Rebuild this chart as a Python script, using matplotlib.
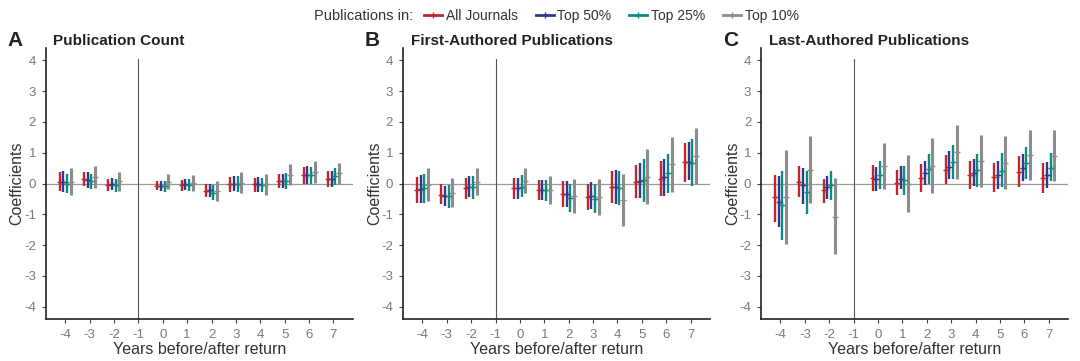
import numpy as np
import matplotlib
matplotlib.use("Agg")
import matplotlib.pyplot as plt
from matplotlib.lines import Line2D

plt.rcParams['font.family'] = ['Liberation Sans', 'DejaVu Sans']
plt.rcParams['axes.unicode_minus'] = False

years = [-4, -3, -2, 0, 1, 2, 3, 4, 5, 6, 7]
series = ["All Journals", "Top 50%", "Top 25%", "Top 10%"]
colors = ["#c0272d", "#2f3a8f", "#0e8a7e", "#8c8c8c"]
titles = ["Publication Count", "First-Authored Publications", "Last-Authored Publications"]
letters = ["A", "B", "C"]

# panel A: point estimate, lower, upper  (one list per series)
a_est = [[0.05, 0.15, -0.04, -0.07, -0.05, -0.25, 0.0, -0.03, 0.07, 0.27, 0.15],
         [0.05, 0.12, -0.02, -0.08, -0.03, -0.22, 0.0, -0.02, 0.08, 0.28, 0.14],
         [0.0, 0.07, -0.06, -0.09, -0.04, -0.30, 0.0, -0.05, 0.08, 0.28, 0.23],
         [0.05, 0.20, 0.07, 0.05, 0.02, -0.25, 0.03, -0.02, 0.28, 0.38, 0.33]]
a_lo = [[-0.24, -0.09, -0.24, -0.22, -0.24, -0.43, -0.27, -0.27, -0.16, 0.0, -0.10],
        [-0.27, -0.13, -0.22, -0.24, -0.22, -0.43, -0.25, -0.27, -0.16, 0.0, -0.11],
        [-0.32, -0.19, -0.29, -0.27, -0.25, -0.54, -0.28, -0.29, -0.18, 0.0, -0.05],
        [-0.38, -0.16, -0.24, -0.19, -0.25, -0.56, -0.32, -0.36, -0.05, 0.02, -0.03]]
a_hi = [[0.36, 0.38, 0.14, 0.09, 0.13, -0.03, 0.22, 0.19, 0.30, 0.54, 0.40],
        [0.41, 0.36, 0.18, 0.08, 0.15, 0.0, 0.24, 0.22, 0.32, 0.57, 0.40],
        [0.32, 0.32, 0.16, 0.09, 0.16, -0.05, 0.25, 0.19, 0.35, 0.55, 0.51],
        [0.49, 0.56, 0.38, 0.30, 0.29, 0.08, 0.36, 0.30, 0.63, 0.74, 0.68]]

# panel B
b_est = [[-0.20, -0.37, -0.14, -0.14, -0.20, -0.33, -0.43, -0.12, 0.06, 0.15, 0.70],
         [-0.18, -0.40, -0.10, -0.15, -0.20, -0.33, -0.42, -0.12, 0.08, 0.20, 0.70],
         [-0.15, -0.42, -0.12, -0.10, -0.22, -0.47, -0.50, -0.15, 0.10, 0.33, 0.68],
         [-0.05, -0.30, 0.05, 0.08, -0.20, -0.40, -0.45, -0.55, 0.22, 0.62, 0.88]]
b_lo = [[-0.62, -0.68, -0.49, -0.49, -0.52, -0.76, -0.86, -0.63, -0.46, -0.41, 0.05],
        [-0.62, -0.74, -0.43, -0.49, -0.52, -0.76, -0.84, -0.68, -0.46, -0.41, 0.10],
        [-0.62, -0.78, -0.49, -0.45, -0.56, -0.92, -0.97, -0.70, -0.60, -0.32, -0.09],
        [-0.57, -0.76, -0.36, -0.32, -0.65, -0.95, -1.03, -1.38, -0.68, -0.27, -0.03]]
b_hi = [[0.22, -0.02, 0.19, 0.19, 0.11, 0.08, -0.02, 0.40, 0.59, 0.73, 1.30],
        [0.27, -0.09, 0.26, 0.19, 0.11, 0.08, 0.05, 0.45, 0.68, 0.81, 1.35],
        [0.30, -0.05, 0.24, 0.27, 0.13, 0.0, -0.02, 0.41, 0.78, 0.97, 1.43],
        [0.49, 0.18, 0.51, 0.52, 0.24, 0.16, 0.14, 0.30, 1.13, 1.51, 1.81]]

# panel C
c_est = [[-0.45, 0.05, -0.22, 0.18, 0.03, 0.17, 0.45, 0.27, 0.20, 0.38, 0.18],
         [-0.60, -0.05, -0.10, 0.15, 0.15, 0.33, 0.55, 0.35, 0.27, 0.50, 0.27],
         [-0.70, -0.28, -0.05, 0.28, 0.10, 0.48, 0.70, 0.43, 0.42, 0.65, 0.50],
         [-0.45, 0.45, -1.08, 0.57, 0.0, 0.58, 1.03, 0.73, 0.68, 0.92, 0.90]]
c_lo = [[-1.24, -0.43, -0.62, -0.24, -0.36, -0.29, 0.0, -0.19, -0.29, -0.11, -0.32],
        [-1.40, -0.65, -0.49, -0.24, -0.19, -0.05, 0.14, -0.09, -0.19, 0.09, -0.16],
        [-1.82, -1.00, -0.52, -0.19, -0.36, -0.02, 0.16, -0.11, -0.11, 0.15, 0.09],
        [-1.98, -0.63, -2.29, -0.19, -0.93, -0.30, 0.16, -0.11, -0.19, 0.11, 0.09]]
c_hi = [[0.29, 0.56, 0.16, 0.60, 0.43, 0.62, 0.92, 0.74, 0.67, 0.90, 0.67],
        [0.25, 0.52, 0.26, 0.54, 0.57, 0.74, 1.06, 0.81, 0.74, 0.97, 0.70],
        [0.41, 0.41, 0.40, 0.74, 0.57, 0.97, 1.25, 0.97, 1.00, 1.17, 1.00],
        [1.10, 1.54, 0.17, 1.33, 0.92, 1.48, 1.91, 1.59, 1.54, 1.75, 1.73]]

panels = [(a_est, a_lo, a_hi), (b_est, b_lo, b_hi), (c_est, c_lo, c_hi)]
offsets = [-0.225, -0.075, 0.075, 0.225]
widths = [1.7, 1.7, 1.7, 2.2]

fig = plt.figure(figsize=(10.8, 3.61), dpi=100)
lefts = [0.0423, 0.373, 0.7046]

for k, (est, lo, hi) in enumerate(panels):
    ax = fig.add_axes([lefts[k], 0.1163, 0.2845, 0.7507])
    ax.axhline(0, color="#999999", lw=0.9, zorder=1)
    ax.axvline(-1, ymax=0.96, color="#555555", lw=0.8, zorder=1)
    for s in range(4):
        xs = np.array(years) + offsets[s]
        ax.vlines(xs, lo[s], hi[s], color=colors[s], lw=widths[s], zorder=2)
        ax.plot(xs, est[s], ls="none", marker="+", ms=4.5, mew=1.0,
                color=colors[s], zorder=3)
    ax.set_xlim(-4.8, 7.8)
    ax.set_ylim(-4.4, 4.4)
    ax.set_xticks(range(-4, 8))
    ax.set_yticks(range(-4, 5))
    for sp in ["top", "right"]:
        ax.spines[sp].set_visible(False)
    for sp in ["left", "bottom"]:
        ax.spines[sp].set_linewidth(1.2)
        ax.spines[sp].set_color("#222222")
    ax.tick_params(colors="#444444", labelcolor="#7a7a7a", labelsize=9.5,
                   length=3, width=0.8, pad=4)
    ax.set_xlabel("Years before/after return", fontsize=11.5, color="#333333", labelpad=1)
    ax.set_ylabel("Coefficients", fontsize=11.5, color="#333333", labelpad=-0.5)
    ax.text(0.025, 1.0, titles[k], transform=ax.transAxes, fontsize=11,
            fontweight="bold", color="#222222", va="bottom", ha="left")
    fig.text(lefts[k] - 0.035, 0.861, letters[k], fontsize=15, fontweight="bold",
             color="#222222", va="bottom", ha="left")

fig.text(0.291, 0.957, "Publications in:", fontsize=10.5, color="#333333",
         va="center", ha="left")
handles = [Line2D([0], [0], color=c, lw=2.0, marker="+", ms=4) for c in colors]
fig.legend(handles, series, loc="center left", bbox_to_anchor=(0.381, 0.957),
           ncol=4, frameon=False, fontsize=10, handlelength=1.3,
           handletextpad=0.25, columnspacing=1.3, labelcolor="#333333")

fig.savefig("out.png", dpi=100)
